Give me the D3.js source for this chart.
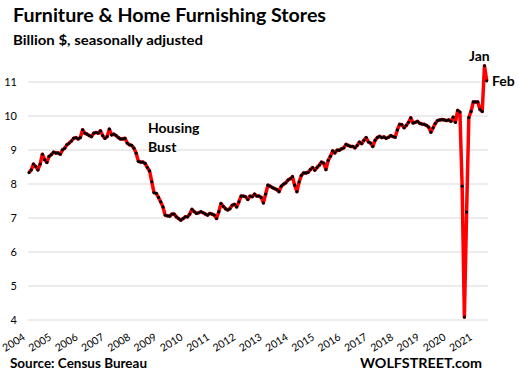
<!DOCTYPE html>
<html>
<head>
<meta charset="utf-8">
<script src="https://cdn.jsdelivr.net/npm/d3@7"></script>
<style>
  html, body { margin: 0; padding: 0; background: #fff; }
  svg { display: block; }
  text { font-family: "Lato", "Liberation Sans", sans-serif; fill: #000; }
</style>
</head>
<body>
<div id="chart"></div>
<script>
// ── 데이터 (월별, 10억 달러, 계절조정) ─────────────────────
const years = [2004, 2005, 2006, 2007, 2008, 2009, 2010, 2011, 2012,
               2013, 2014, 2015, 2016, 2017, 2018, 2019, 2020, 2021];

const v2004 = [8.32, 8.40, 8.57, 8.50, 8.40, 8.57, 8.86, 8.70, 8.62, 8.80, 8.85, 8.92];
const v2005 = [8.90, 8.90, 8.86, 8.99, 9.04, 9.14, 9.19, 9.25, 9.33, 9.35, 9.31, 9.35];
const v2006 = [9.58, 9.48, 9.45, 9.41, 9.38, 9.48, 9.50, 9.48, 9.55, 9.41, 9.33, 9.38];
const v2007 = [9.60, 9.43, 9.45, 9.41, 9.35, 9.31, 9.31, 9.33, 9.19, 9.14, 9.12, 9.04];
const v2008 = [8.89, 8.65, 8.63, 8.63, 8.59, 8.47, 8.37, 8.05, 7.73, 7.71, 7.59, 7.46];
const v2009 = [7.31, 7.07, 7.05, 7.04, 7.10, 7.10, 7.02, 6.97, 6.92, 6.97, 7.02, 7.02];
const v2010 = [7.10, 7.24, 7.17, 7.12, 7.14, 7.17, 7.14, 7.10, 7.07, 7.12, 7.10, 7.07];
const v2011 = [6.97, 7.17, 7.41, 7.33, 7.26, 7.22, 7.26, 7.36, 7.39, 7.31, 7.46, 7.63];
const v2012 = [7.63, 7.61, 7.53, 7.63, 7.61, 7.69, 7.63, 7.63, 7.59, 7.43, 7.69, 7.95];
const v2013 = [7.92, 7.88, 7.85, 7.82, 7.76, 7.92, 7.98, 8.02, 8.10, 8.14, 8.20, 7.95];
const v2014 = [7.76, 8.05, 8.24, 8.31, 8.31, 8.33, 8.41, 8.47, 8.39, 8.47, 8.54, 8.63];
const v2015 = [8.60, 8.41, 8.68, 8.80, 8.96, 8.90, 8.98, 8.98, 9.02, 9.05, 9.15, 9.12];
const v2016 = [9.09, 9.09, 9.05, 9.12, 9.22, 9.17, 9.27, 9.35, 9.22, 9.19, 9.09, 9.27];
const v2017 = [9.35, 9.39, 9.35, 9.37, 9.33, 9.36, 9.41, 9.38, 9.36, 9.58, 9.74, 9.73];
const v2018 = [9.64, 9.71, 9.80, 9.93, 9.78, 9.80, 9.83, 9.77, 9.75, 9.74, 9.71, 9.66];
const v2019 = [9.51, 9.64, 9.77, 9.85, 9.87, 9.88, 9.87, 9.85, 9.87, 9.83, 9.95, 9.80];
const v2020 = [10.15, 10.10, 7.92, 4.07, 7.16, 9.94, 10.12, 10.40, 10.40, 10.40, 10.18, 10.12];
const v2021 = [11.46, 11.02];

const yTicks = [4, 5, 6, 7, 8, 9, 10, 11];

const values = [].concat(v2004, v2005, v2006, v2007, v2008, v2009, v2010, v2011, v2012,
                         v2013, v2014, v2015, v2016, v2017, v2018, v2019, v2020, v2021);
const series = values.map((v, i) => ({ m: i, v }));

// ── 캔버스 ─────────────────────────────────────────────────
const width = 519, height = 384;
const svg = d3.select("#chart").append("svg")
    .attr("width", width).attr("height", height);
svg.append("rect").attr("width", width).attr("height", height).attr("fill", "#fff");

const x = d3.scaleLinear().domain([0, values.length - 1]).range([29, 486.7]);
const y = d3.scaleLinear().domain([4, 11]).range([319.5, 81.5]);
// 연도 라벨 위치 (라벨 끝점 기준)
const xLabel = d3.scalePoint().domain(years).range([26, 473]);

// ── 그리드 + y축 ───────────────────────────────────────────
const yAxis = d3.axisLeft(y).tickValues(yTicks).tickSize(-460).tickPadding(11).tickFormat(d3.format("d"));
const gy = svg.append("g").attr("transform", "translate(28,0)").call(yAxis);
gy.select(".domain").remove();
gy.selectAll(".tick line").attr("stroke", "#d9d9d9").attr("stroke-width", 1);
gy.selectAll(".tick text")
    .attr("font-family", "Liberation Sans, sans-serif")
    .attr("font-size", 11).attr("fill", "#000");

// ── x축 라벨 (연도, 회전) ──────────────────────────────────
const gx = svg.append("g");
gx.selectAll("text").data(years).enter().append("text")
    .attr("transform", d => `translate(${xLabel(d)},339) rotate(-32)`)
    .attr("text-anchor", "end")
    .attr("font-family", "Liberation Sans, sans-serif")
    .attr("font-size", 10.5)
    .text(d => d);

// ── 라인 + 점 ─────────────────────────────────────────────
const line = d3.line().x(d => x(d.m)).y(d => y(d.v));
svg.append("path").datum(series)
    .attr("d", line)
    .attr("fill", "none")
    .attr("stroke", "#ff0000")
    .attr("stroke-width", 3.5)
    .attr("stroke-linejoin", "round");

svg.append("g").selectAll("circle").data(series).enter().append("circle")
    .attr("cx", d => x(d.m)).attr("cy", d => y(d.v))
    .attr("r", 1.6).attr("fill", "#000");

// ── 제목 / 주석 ───────────────────────────────────────────
svg.append("text").attr("x", 13).attr("y", 22)
    .attr("font-size", 18).attr("font-weight", "bold")
    .attr("textLength", 313).attr("lengthAdjust", "spacingAndGlyphs")
    .text("Furniture & Home Furnishing Stores");
svg.append("text").attr("x", 13).attr("y", 45)
    .attr("font-size", 14).attr("font-weight", "bold")
    .attr("textLength", 190).attr("lengthAdjust", "spacingAndGlyphs")
    .text("Billion $, seasonally adjusted");

svg.append("text").attr("x", 148).attr("y", 133)
    .attr("font-size", 14).attr("font-weight", "bold").text("Housing");
svg.append("text").attr("x", 148).attr("y", 152)
    .attr("font-size", 14).attr("font-weight", "bold").text("Bust");

svg.append("text").attr("x", 469).attr("y", 61)
    .attr("font-size", 14).attr("font-weight", "bold").text("Jan");
svg.append("text").attr("x", 492).attr("y", 86)
    .attr("font-size", 14).attr("font-weight", "bold").text("Feb");

svg.append("text").attr("x", 10).attr("y", 368)
    .attr("font-size", 13).attr("font-weight", "bold")
    .attr("textLength", 137).attr("lengthAdjust", "spacingAndGlyphs")
    .text("Source: Census Bureau");
svg.append("text").attr("x", 360).attr("y", 368)
    .attr("font-size", 14).attr("font-weight", "bold")
    .attr("textLength", 122).attr("lengthAdjust", "spacingAndGlyphs")
    .text("WOLFSTREET.com");
</script>
</body>
</html>
